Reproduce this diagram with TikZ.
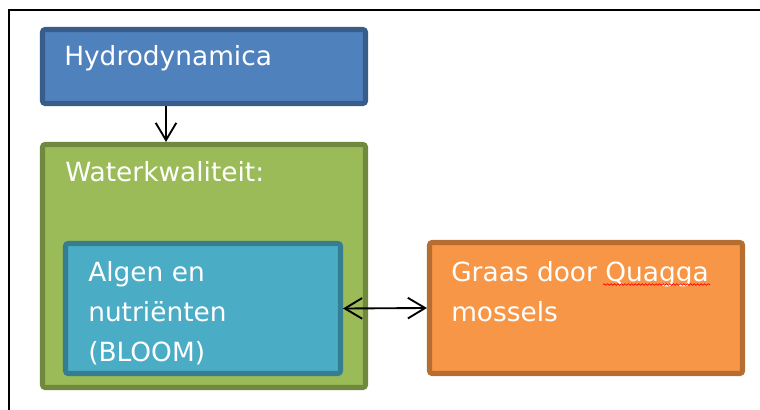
\documentclass[tikz,border=0pt]{standalone}
\usepackage{fontspec}
\newfontfamily\boxfont{DejaVu Sans}
\usepackage{tikz}
\usetikzlibrary{arrows.meta,positioning,calc,decorations.pathmorphing}

\definecolor{hydfill}{HTML}{4F81BD}
\definecolor{hyddraw}{HTML}{385D8A}
\definecolor{wqfill}{HTML}{9BBB59}
\definecolor{wqdraw}{HTML}{71893F}
\definecolor{algfill}{HTML}{4BACC6}
\definecolor{algdraw}{HTML}{357D91}
\definecolor{musfill}{HTML}{F79646}
\definecolor{musdraw}{HTML}{B66D31}

\newlength\pxu
\setlength\pxu{0.75pt}

\begin{document}
\begin{tikzpicture}[
  x=0.75pt, y=-0.75pt,
  blok/.style={draw=#1draw, fill=#1fill, line width=3.8pt, rounded corners=2pt},
  lbl/.style={text=white, inner sep=0pt, anchor=base west, align=left,
    font=\boxfont\fontsize{19.8}{30}\selectfont},
  link/.style={line width=1.4pt, black},
  barb/.tip={Straight Barb[length=13pt, width=15.5pt]}
]
  \useasboundingbox (0,0) rectangle (760,410);

  % frame
  \draw[line width=1pt] (9,410) |- (760,10);

  % boxes
  \node[blok=hyd, minimum width=323*\pxu, minimum height=74*\pxu] (hydro) at (204,66.5) {};
  \node[blok=wq, minimum width=323*\pxu, minimum height=243*\pxu] (water) at (204,266) {};
  \node[blok=alg, minimum width=275*\pxu, minimum height=130*\pxu] (algen) at (203,308.5) {};
  \node[blok=mus, minimum width=313*\pxu, minimum height=131*\pxu] (graas) at (586,308) {};

  % texts (base = last line)
  \node[lbl] (hydrotxt) at (64,65) {Hydrodynamica};
  \node[lbl] (watertxt) at (65,181) {Waterkwaliteit:};
  \node[lbl] (algentxt) at (88,361) {Algen en\\nutriënten\\(BLOOM)};
  \node[lbl] (graastxt) at (451,321.5) {Graas door Quagga\\mossels};

  % spelling mark
  \draw[red, line width=0.5pt, decorate,
    decoration={snake, amplitude=0.6pt, segment length=2.6pt}] (603,284.5) -- (710,284.5);

  % connectors
  \draw[link, -{barb}] ([xshift=-38*\pxu]hydro.south) -- ([xshift=-38*\pxu]water.north);
  \draw[link, {barb}-{barb}] (algen.east) -- (graas.west);
\end{tikzpicture}
\end{document}
